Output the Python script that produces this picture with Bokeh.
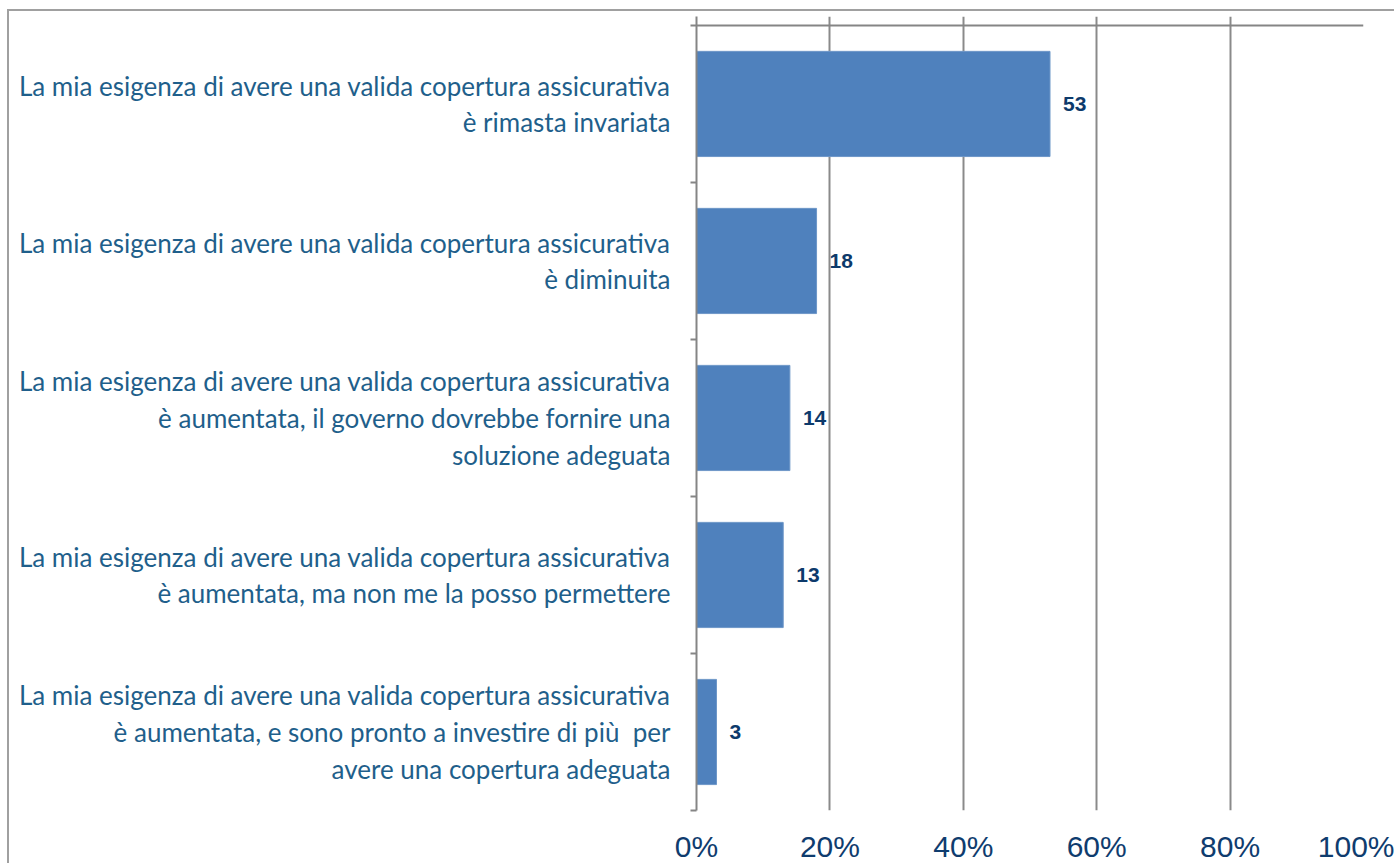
from bokeh.plotting import figure
from bokeh.models import ColumnDataSource, FixedTicker, Span
from bokeh.core.properties import value
from bokeh.embed import file_html
from bokeh.resources import INLINE

# ---- data ----
categories = [
    "La mia esigenza di avere una valida copertura assicurativa\nè rimasta invariata",
    "La mia esigenza di avere una valida copertura assicurativa\nè diminuita",
    "La mia esigenza di avere una valida copertura assicurativa\nè aumentata, il governo dovrebbe fornire una\nsoluzione adeguata",
    "La mia esigenza di avere una valida copertura assicurativa\nè aumentata, ma non me la posso permettere",
    "La mia esigenza di avere una valida copertura assicurativa\nè aumentata, e sono pronto a investire di più\u00a0 per\navere una copertura adeguata",
]
values = [53, 18, 14, 13, 3]
x_ticks = [0, 20, 40, 60, 80, 100]
x_tick_labels = ["0%", "20%", "40%", "60%", "80%", "100%"]

n = len(categories)
centers = [n - 0.5 - i for i in range(n)]
src = ColumnDataSource(dict(y=centers, v=values, lbl=[str(v) for v in values]))

p = figure(width=1387, height=854, output_backend="svg", toolbar_location=None,
           x_range=(0, 100), y_range=(0, n + 0.057),
           min_border_left=687, min_border_right=33, min_border_top=5, min_border_bottom=54)
p.styles = {"border-left": "2px solid #a0a0a0", "border-top": "2px solid #a0a0a0",
            "margin-left": "7px", "margin-top": "9px"}
p.outline_line_color = None
p.background_fill_color = "white"
p.border_fill_color = "white"

p.hbar(y="y", right="v", left=0, height=0.67, source=src,
       fill_color="#4f81bd", line_color="#6e97c8", line_width=1)

p.text(x="v", y="y", text="lbl", source=src, x_offset=13,
       text_font=value("Liberation Sans"), text_font_style="bold",
       text_font_size="21px", text_color="#0d3a6b", text_baseline="middle")

p.add_layout(Span(location=n, dimension="width", line_color="#858585", line_width=2))

# x axis
p.xaxis.ticker = FixedTicker(ticks=x_ticks)
p.xaxis.major_label_overrides = {t: l for t, l in zip(x_ticks, x_tick_labels)}
p.xaxis.axis_line_color = None
p.xaxis.major_tick_line_color = None
p.xaxis.minor_tick_line_color = None
p.xaxis.major_tick_out = 0
p.xaxis.major_tick_in = 0
p.xaxis.minor_tick_out = 0
p.xaxis.major_label_standoff = 19
p.xaxis.major_label_text_font = "Liberation Sans"
p.xaxis.major_label_text_font_size = "30px"
p.xaxis.major_label_text_color = "#0f3c6e"

# y axis
p.yaxis.ticker = FixedTicker(ticks=centers, minor_ticks=list(range(n + 1)))
p.yaxis.major_label_overrides = {c: cat for c, cat in zip(centers, categories)}
p.yaxis.axis_line_color = "#858585"
p.yaxis.axis_line_width = 2
p.yaxis.major_tick_line_color = None
p.yaxis.minor_tick_line_color = "#858585"
p.yaxis.minor_tick_line_width = 2
p.yaxis.minor_tick_out = 6
p.yaxis.minor_tick_in = 0
p.yaxis.major_tick_out = 0
p.yaxis.major_tick_in = 0
p.yaxis.major_label_standoff = 20
p.yaxis.major_label_text_font = "Lato"
p.yaxis.major_label_text_font_size = "26px"
p.yaxis.major_label_text_color = "#1f5f8b"
p.yaxis.major_label_text_line_height = 1.15

p.xgrid.ticker = FixedTicker(ticks=x_ticks)
p.xgrid.grid_line_color = "#8a8a8a"
p.xgrid.grid_line_width = 2
p.ygrid.grid_line_color = None

open("out.html", "w").write(file_html(p, INLINE))
